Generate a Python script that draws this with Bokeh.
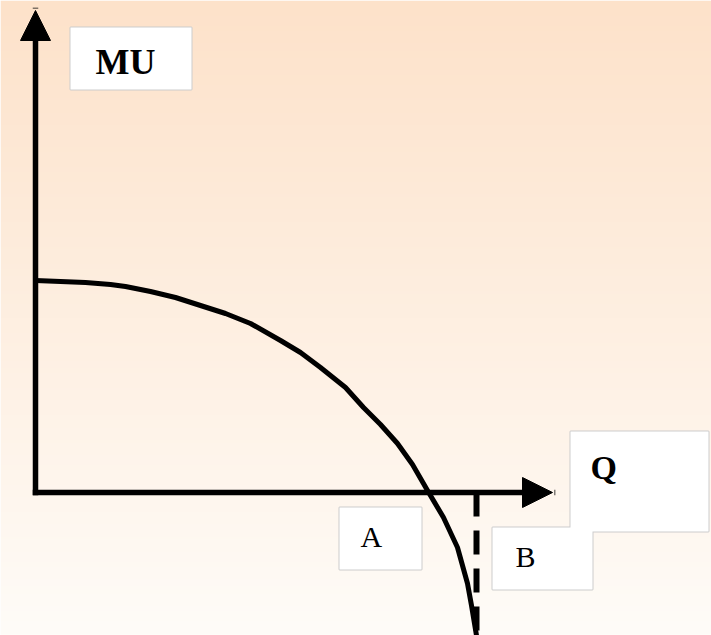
import numpy as np
from bokeh.plotting import figure
from bokeh.models import Range1d, Arrow, NormalHead
from bokeh.core.properties import value
from bokeh.embed import file_html
from bokeh.resources import INLINE

# ---- data (Q on x, MU on y) ----
curve_q = [0, 2.5, 5.0, 7.5, 9.0, 11.5, 14.0, 16.5, 19.0, 21.5, 24.5, 26.5, 28.5, 31.0,
           32.8, 34.5, 36.2, 37.7, 39.2, 40.8, 42.2, 42.7, 43.2, 43.6, 44.1]
curve_mu = [21.2, 21.1, 21.0, 20.8, 20.6, 20.1, 19.5, 18.7, 17.9, 16.9, 15.2, 14.0, 12.5, 10.5,
            8.5, 6.8, 4.9, 2.8, 0.2, -2.5, -5.5, -7.3, -9.1, -11.3, -14.3]
q_axis_end = 51.7
mu_axis_end = 48.2
q_b = 44.1
mu_b_bottom = -14.3

bold_labels = ["MU", "Q"]
normal_labels = ["A", "B"]

# ---- layout ----
X0, X1 = -3.5, 67.6
Y0, Y1 = -14.3, 49.2

p = figure(width=711, height=635, x_range=Range1d(X0, X1), y_range=Range1d(Y0, Y1),
           output_backend="svg", toolbar_location=None, min_border=0,
           x_axis_location=None, y_axis_location=None, outline_line_color=None,
           background_fill_color="white", border_fill_color="white")
p.grid.visible = False

# background gradient (peach at top to near-white at bottom)
H = 256
t = np.linspace(0, 1, H)[:, None]  # row 0 = bottom
top = np.array([253, 226, 202])
bot = np.array([255, 252, 248])
cols = (bot * (1 - t) + top * t).astype(np.uint32)
img = np.empty((H, 1), dtype=np.uint32)
view = img.view(dtype=np.uint8).reshape((H, 1, 4))
view[:, 0, 0] = cols[:, 0]
view[:, 0, 1] = cols[:, 1]
view[:, 0, 2] = cols[:, 2]
view[:, 0, 3] = 255
p.image_rgba(image=[img], x=X0, y=Y0, dw=X1 - X0, dh=Y1 - Y0)

# label boxes
box_l = [3.5, 53.5, 30.4, 45.7]
box_r = [15.6, 67.3, 38.6, 55.7]
box_t = [46.5, 6.1, -1.5, -3.5]
box_b = [40.3, -3.9, -7.7, -9.7]
p.quad(left=box_l, right=box_r, top=box_t, bottom=box_b,
       fill_color=None, line_color="#cccccc", line_width=2)
p.quad(left=box_l, right=box_r, top=box_t, bottom=box_b,
       fill_color="white", line_color=None)

# axes with arrow heads
for xs, ys, xe, ye in [(0, 0, 0, mu_axis_end), (0, 0, q_axis_end, 0)]:
    p.add_layout(Arrow(x_start=xs, y_start=ys, x_end=xe, y_end=ye,
                       line_width=5.5, line_color="black", line_cap="square",
                       end=NormalHead(size=30, fill_color="black", line_color="black", line_width=1)))

# dashed line at B
p.line(x=[q_b, q_b], y=[0, mu_b_bottom], line_color="black", line_width=6, line_dash="24 14")

# MU curve
p.line(x=curve_q, y=curve_mu, line_color="black", line_width=5, line_join="round")

# labels
p.text(x=[6.0], y=[43.1], text=[bold_labels[0]], text_font=value("Liberation Serif"),
       text_font_size="36px", text_font_style="bold", text_baseline="alphabetic", text_color="black")
p.text(x=[55.5], y=[2.5], text=[bold_labels[1]], text_font=value("Liberation Serif"),
       text_font_size="34px", text_font_style="bold", text_baseline="alphabetic", text_color="black")
p.text(x=[32.5, 48.0], y=[-4.4, -6.4], text=normal_labels, text_font=value("Liberation Serif"),
       text_font_size="30px", text_baseline="alphabetic", text_color="black")

open("out.html", "w").write(file_html(p, INLINE))
